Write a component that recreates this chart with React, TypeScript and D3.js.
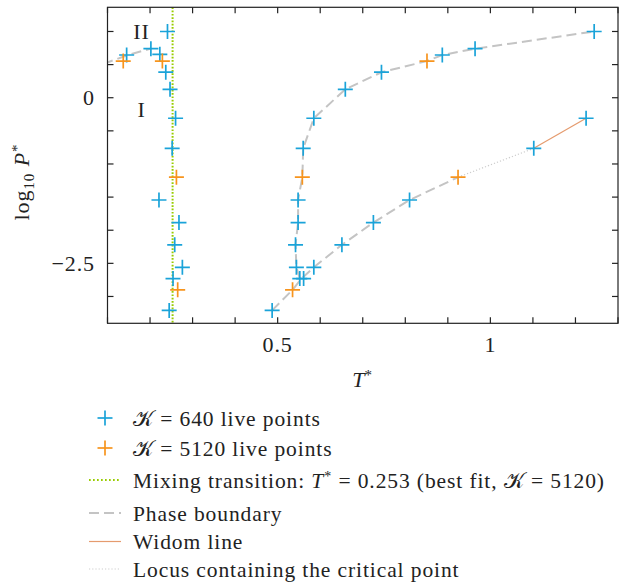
import React from "react";
import * as d3 from "d3";

// K = 640 live points: [T*, log10 P*]
const points640: [number, number][] = [
  [0.241, 1.0], [0.145, 0.645], [0.202, 0.74], [0.223, 0.655], [0.237, 0.385],
  [0.247, 0.127], [0.26, -0.31], [0.252, -0.764], [0.221, -1.544], [0.268, -1.884],
  [0.258, -2.22], [0.276, -2.56], [0.254, -2.73], [0.245, -3.21],
  [1.244, 1.0], [0.964, 0.74], [0.887, 0.645], [0.744, 0.385], [0.659, 0.127],
  [0.585, -0.31], [0.56, -0.764], [1.225, -0.31], [1.102, -0.764],
  [0.548, -1.544], [0.548, -1.884], [0.542, -2.22], [0.544, -2.56],
  [0.552, -2.73], [0.561, -2.73], [0.585, -2.56], [0.487, -3.21],
  [0.651, -2.22], [0.725, -1.884], [0.81, -1.544],
];
// K = 5120 live points
const points5120: [number, number][] = [
  [0.137, 0.554], [0.229, 0.554], [0.262, -1.2], [0.265, -2.9],
  [0.851, 0.554], [0.558, -1.2], [0.535, -2.9], [0.924, -1.2],
];
// Phase boundary segments
const boundaryLowT: [number, number][] = [[0.09, 0.51], [0.145, 0.638], [0.202, 0.742]];
const boundaryMelting: [number, number][] = [
  [0.552, -2.73], [0.544, -2.56], [0.542, -2.22], [0.548, -1.884], [0.548, -1.544],
  [0.558, -1.2], [0.56, -0.764], [0.585, -0.31], [0.659, 0.127], [0.744, 0.385],
  [0.851, 0.554], [0.887, 0.645], [0.964, 0.74], [1.244, 1.0],
];
const boundaryVapour: [number, number][] = [
  [0.487, -3.21], [0.535, -2.9], [0.556, -2.73], [0.585, -2.56], [0.651, -2.22],
  [0.725, -1.884], [0.81, -1.544], [0.924, -1.2],
];
const criticalLocus: [number, number][] = [[0.924, -1.2], [1.102, -0.764]];
const widomLine: [number, number][] = [[1.102, -0.764], [1.225, -0.31]];
const mixingT = 0.253;

const xTickValues = d3.range(1, 14).map((i) => i / 10);
const yTickValues = d3.range(-6, 3).map((i) => i / 2);
const xTickLabels: [number, string][] = [[0.5, "0.5"], [1, "1"]];
const yTickLabels: [number, string][] = [[0, "0"], [-2.5, "\u22122.5"]];
const regionLabels: [number, number, string][] = [[0.18, 1.0, "II"], [0.18, -0.17, "I"]];

const BLUE = "#1aa3d9";
const ORANGE = "#f7941d";
const GREEN = "#99cc00";
const GRAY = "#c4c4c4";
const WIDOM = "#e59b6e";
const LOCUS = "#cdcdcd";
const FONT = "'Liberation Serif', 'Times New Roman', serif";
const K = "\uD835\uDCA6";
const LS = 0.9;

const Plus = ({ cx, cy, color }: { cx: number; cy: number; color: string }) => (
  <g stroke={color} strokeWidth={1.7}>
    <line x1={cx - 7.5} x2={cx + 7.5} y1={cy} y2={cy} />
    <line x1={cx} x2={cx} y1={cy - 7.5} y2={cy + 7.5} />
  </g>
);

export default function App() {
  const left = 107.5, right = 618, top = 7.3, bottom = 323.3;
  const x = d3.scaleLinear().domain([0.1, 1.3]).range([left, right]);
  const y = d3.scaleLinear().domain([-3.405, 1.365]).range([bottom, top]);
  const line = d3.line<[number, number]>().x((d) => x(d[0])).y((d) => y(d[1]));
  const tl = 6;

  const legendRows = [
    { kind: "marker", color: BLUE, y: 418, text: <>{K} = 640 live points</> },
    { kind: "marker", color: ORANGE, y: 448, text: <>{K} = 5120 live points</> },
    {
      kind: "green", y: 480,
      text: <>Mixing transition: <tspan fontStyle="italic">T</tspan><tspan dy={-7} fontSize={14}>*</tspan><tspan dy={7}> = 0.253 (best fit, {K} = 5120)</tspan></>,
    },
    { kind: "gray", y: 513, text: <>Phase boundary</> },
    { kind: "widom", y: 541.5, text: <>Widom line</> },
    { kind: "locus", y: 569, text: <>Locus containing the critical point</> },
  ];

  return (
    <svg width={630} height={582} style={{ position: "absolute", left: 0, top: 0, background: "#fff" }}
      fontFamily={FONT}>
      <defs>
        <clipPath id="plotClip">
          <rect x={left} y={top} width={right - left} height={bottom - top} />
        </clipPath>
      </defs>
      <g clipPath="url(#plotClip)" fill="none">
        {[boundaryLowT, boundaryMelting, boundaryVapour].map((seg, i) => (
          <path key={i} d={line(seg) || ""} stroke={GRAY} strokeWidth={2} strokeDasharray="10 5" />
        ))}
        <path d={line(criticalLocus) || ""} stroke={LOCUS} strokeWidth={1.2} strokeDasharray="1.2 2" />
        <path d={line(widomLine) || ""} stroke={WIDOM} strokeWidth={1.2} />
        <line x1={x(mixingT)} x2={x(mixingT)} y1={top} y2={bottom} stroke={GREEN} strokeWidth={2}
          strokeDasharray="1.7 1.6" />
        {points640.map((d, i) => <Plus key={"b" + i} cx={x(d[0])} cy={y(d[1])} color={BLUE} />)}
        {points5120.map((d, i) => <Plus key={"o" + i} cx={x(d[0])} cy={y(d[1])} color={ORANGE} />)}
      </g>
      {regionLabels.map(([t, p, s]) => (
        <text key={s} x={x(t)} y={y(p)} dy="0.35em" textAnchor="middle" fontSize={22} letterSpacing={LS} fill="#222">{s}</text>
      ))}
      {/* frame & ticks */}
      <rect x={left} y={top} width={right - left} height={bottom - top} fill="none" stroke="#222" strokeWidth={1.2} />
      <g stroke="#222" strokeWidth={1.2}>
        {xTickValues.map((v) => (
          <g key={"xt" + v}>
            <line x1={x(v)} x2={x(v)} y1={bottom} y2={bottom - tl} />
            <line x1={x(v)} x2={x(v)} y1={top} y2={top + tl} />
          </g>
        ))}
        {yTickValues.map((v) => (
          <g key={"yt" + v}>
            <line x1={left} x2={left + tl} y1={y(v)} y2={y(v)} />
            <line x1={right} x2={right - tl} y1={y(v)} y2={y(v)} />
          </g>
        ))}
      </g>
      {xTickLabels.map(([v, s]) => (
        <text key={s} x={x(v)} y={351.5} textAnchor="middle" fontSize={22} letterSpacing={LS} fill="#222">{s}</text>
      ))}
      {yTickLabels.map(([v, s]) => (
        <text key={s} x={95} y={y(v)} dy="0.35em" textAnchor="end" fontSize={22} letterSpacing={LS} fill="#222">{s}</text>
      ))}
      <text x={362} y={386.5} textAnchor="middle" fontSize={22} fill="#222">
        <tspan fontStyle="italic">T</tspan><tspan dy={-7} fontSize={15}>*</tspan>
      </text>
      <text transform="translate(29,182) rotate(-90)" textAnchor="middle" fontSize={22} letterSpacing={LS} fill="#222">
        log<tspan dy={5} fontSize={15}>10</tspan><tspan dy={-5}> </tspan><tspan fontStyle="italic">P</tspan><tspan dy={-7} fontSize={15}>*</tspan>
      </text>
      {/* legend */}
      {legendRows.map((r, i) => (
        <g key={i}>
          {r.kind === "marker" && <Plus cx={105} cy={r.y} color={r.color as string} />}
          {r.kind === "green" && <line x1={89} x2={121} y1={r.y} y2={r.y} stroke={GREEN} strokeWidth={2} strokeDasharray="1.7 2.3" />}
          {r.kind === "gray" && <line x1={89} x2={121} y1={r.y} y2={r.y} stroke={GRAY} strokeWidth={2} strokeDasharray="10 5" />}
          {r.kind === "widom" && <line x1={89} x2={121} y1={r.y} y2={r.y} stroke={WIDOM} strokeWidth={1.2} />}
          {r.kind === "locus" && <line x1={89} x2={121} y1={r.y} y2={r.y} stroke={LOCUS} strokeWidth={1.2} strokeDasharray="1.2 2" />}
          <text x={133} y={r.y} dy="0.35em" fontSize={21.5} letterSpacing={LS} fill="#222">{r.text}</text>
        </g>
      ))}
    </svg>
  );
}
